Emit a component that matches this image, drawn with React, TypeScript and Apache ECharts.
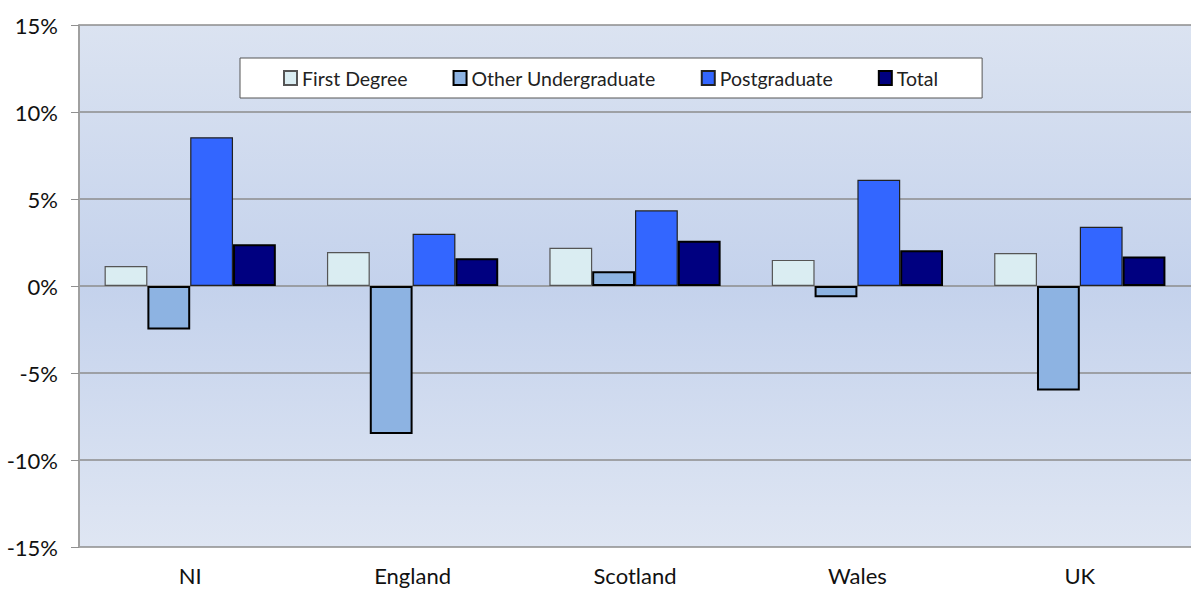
import React, { useEffect, useRef } from "react";
import * as echarts from "echarts";

const categories = ["NI", "England", "Scotland", "Wales", "UK"];
const firstDegree = [1.15, 1.95, 2.2, 1.5, 1.9];
const otherUndergraduate = [-2.5, -8.5, 0.85, -0.65, -6.0];
const postgraduate = [8.55, 3.0, 4.35, 6.1, 3.4];
const total = [2.4, 1.6, 2.6, 2.05, 1.7];
const yTicks = [-15, -10, -5, 0, 5, 10, 15];

const FONT = "Lato, 'Open Sans', sans-serif";

export default function App() {
  const ref = useRef<HTMLDivElement>(null);
  useEffect(() => {
    if (!ref.current) return;
    const chart = echarts.init(ref.current, undefined, { renderer: "svg" });
    const mk = (name: string, data: number[], color: string, border: string, bw: number) => ({
      name,
      type: "bar",
      data,
      barGap: "0%",
      barCategoryGap: "23%",
      itemStyle: { color, borderColor: border, borderWidth: bw },
    });
    chart.setOption({
      animation: false,
      backgroundColor: "#ffffff",
      textStyle: { fontFamily: FONT },
      grid: {
        left: 79,
        right: 1,
        top: 25,
        bottom: 45,
        show: true,
        borderWidth: 0,
        backgroundColor: new echarts.graphic.LinearGradient(0, 0, 0, 1, [
          { offset: 0, color: "#dbe3f1" },
          { offset: 0.5, color: "#c4d2ec" },
          { offset: 1, color: "#dfe6f3" },
        ]),
      },
      legend: {
        left: 240,
        top: 58,
        backgroundColor: "#ffffff",
        borderColor: "#555555",
        borderWidth: 1,
        padding: [10, 44, 10, 43],
        itemWidth: 13,
        itemHeight: 14,
        itemGap: 45,
        icon: "rect",
        textStyle: { fontSize: 19.5, color: "#222", fontFamily: FONT },
        data: ["First Degree", "Other Undergraduate", "Postgraduate", "Total"],
      },
      xAxis: {
        type: "category",
        data: categories,
        axisLine: { show: false },
        axisTick: { show: false },
        axisLabel: { fontSize: 22, color: "#111", margin: 17, fontFamily: FONT },
      },
      yAxis: {
        type: "value",
        min: yTicks[0],
        max: yTicks[yTicks.length - 1],
        interval: 5,
        axisLine: { show: true, lineStyle: { color: "#a0a0a0", width: 2 } },
        axisTick: { show: true, length: 8, lineStyle: { color: "#909090" } },
        splitLine: { show: true, lineStyle: { color: "#8c8c8c", width: 1.5 } },
        axisLabel: {
          fontSize: 22,
          color: "#111",
          margin: 21,
          fontFamily: FONT,
          formatter: (v: number) => `${v}%`,
        },
      },
      series: [
        mk("First Degree", firstDegree, "#daedf2", "#555555", 1.2),
        mk("Other Undergraduate", otherUndergraduate, "#8db3e2", "#000000", 2),
        mk("Postgraduate", postgraduate, "#3366ff", "#222222", 1.2),
        mk("Total", total, "#000080", "#000000", 2),
      ],
    });
    return () => chart.dispose();
  }, []);
  return <div ref={ref} style={{ width: 1192, height: 592, position: "absolute", left: 0, top: 0 }} />;
}
